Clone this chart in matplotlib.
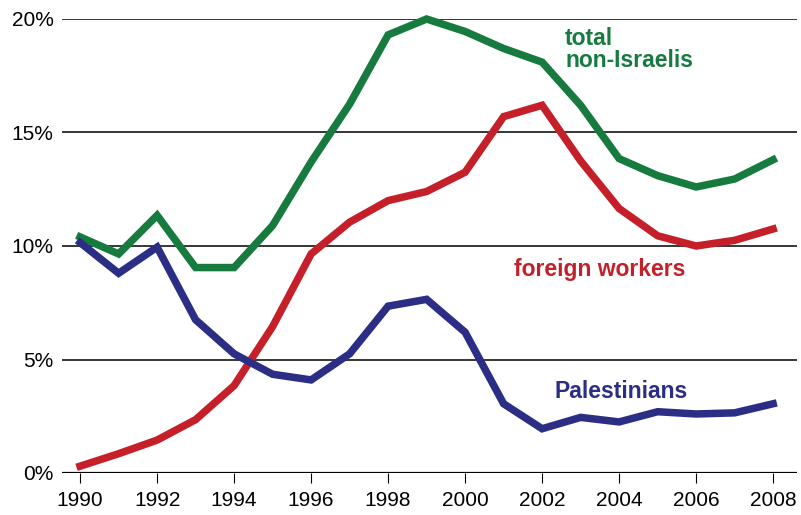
import matplotlib.pyplot as plt
import numpy as np

plt.rcParams['font.family'] = ['Liberation Sans', 'DejaVu Sans']

# Share of non-Israeli workers in the labour force (%)
years = list(range(1990, 2009))
total = [10.4, 9.65, 11.35, 9.05, 9.05, 10.9, 13.7, 16.25, 19.3, 20.0,
         19.45, 18.7, 18.1, 16.2, 13.85, 13.1, 12.6, 12.95, 13.8]
foreign = [0.3, 0.85, 1.45, 2.35, 3.85, 6.45, 9.65, 11.05, 12.0, 12.4,
           13.25, 15.7, 16.2, 13.75, 11.65, 10.45, 10.0, 10.25, 10.75]
palest = [10.15, 8.8, 9.95, 6.75, 5.25, 4.35, 4.1, 5.25, 7.35, 7.65,
          6.2, 3.05, 1.95, 2.45, 2.25, 2.7, 2.6, 2.65, 3.05]

green = '#177b3f'
red = '#c5202a'
blue = '#2b2e84'

fig = plt.figure(figsize=(8.01, 5.15), dpi=100)
ax = fig.add_axes([62/801, 1 - 473/515, (797-62)/801, (473-19)/515])

ax.plot(years, total, color=green, lw=5.4, solid_joinstyle='miter', clip_on=False, zorder=3)
ax.plot(years, foreign, color=red, lw=5.4, solid_joinstyle='miter', clip_on=False, zorder=3)
ax.plot(years, palest, color=blue, lw=5.4, solid_joinstyle='miter', clip_on=False, zorder=3)

ax.set_xlim(1989.53, 2008.62)
ax.set_ylim(0, 20)

for v in [5, 10, 15, 20]:
    ax.axhline(v, color='black', lw=1.1, zorder=1)
ax.axhline(0, color='black', lw=1.6, zorder=1)

for s in ax.spines.values():
    s.set_visible(False)

ax.set_yticks([0, 5, 10, 15, 20])
ax.set_yticklabels(['0%', '5%', '10%', '15%', '20%'], fontsize=15)
ax.tick_params(axis='y', length=0, pad=6)
ax.set_xticks(range(1990, 2009, 2))
ax.set_xticklabels([str(y) for y in range(1990, 2009, 2)], fontsize=15)
ax.tick_params(axis='x', length=7, width=0.8, pad=6)

ax.text(2002.6, 18.65, 'total\nnon-Israelis', color=green, fontsize=16.5,
        fontweight='bold', ha='left', va='center', linespacing=0.95)
ax.text(2003.5, 8.95, 'foreign workers', color=red, fontsize=16.5,
        fontweight='bold', ha='center', va='center')
ax.text(2004.05, 3.6, 'Palestinians', color=blue, fontsize=16.5,
        fontweight='bold', ha='center', va='center')

fig.savefig('out.png', dpi=100)
